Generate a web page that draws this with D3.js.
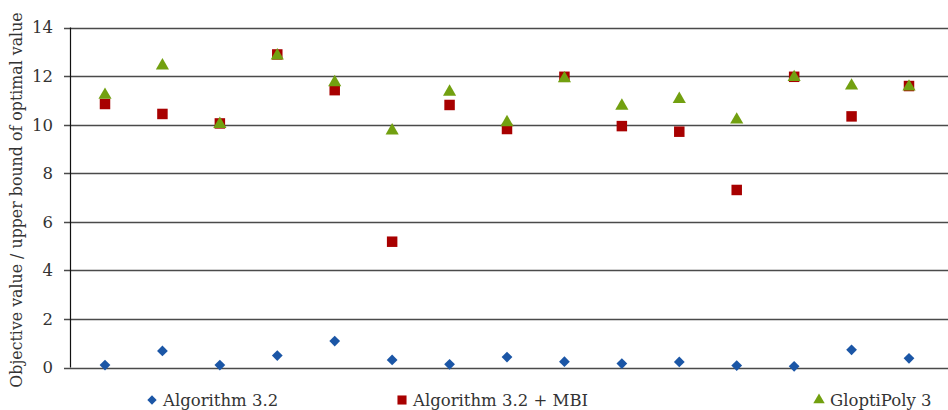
<!DOCTYPE html>
<html>
<head>
<meta charset="utf-8">
<script src="https://cdn.jsdelivr.net/npm/d3@7"></script>
<style>
  html, body { margin: 0; padding: 0; background: #fff; }
  svg { display: block; }
  svg text { font-family: "DejaVu Serif", serif; }
</style>
</head>
<body>
<svg id="chart" width="948" height="410"></svg>
<script>
const instances = d3.range(1, 16).map(String);
const alg32 = [0.10, 0.68, 0.10, 0.49, 1.09, 0.31, 0.13, 0.43, 0.24, 0.16, 0.23, 0.08, 0.05, 0.73, 0.38];
const alg32Mbi = [10.85, 10.44, 10.05, 12.89, 11.42, 5.18, 10.81, 9.82, 11.97, 9.94, 9.71, 7.31, 11.97, 10.34, 11.59];
const gloptiPoly = [11.22, 12.43, 10.02, 12.84, 11.74, 9.75, 11.35, 10.09, 11.90, 10.77, 11.05, 10.20, 11.95, 11.60, 11.56];
const yTicks = [0, 2, 4, 6, 8, 10, 12, 14];

const series = [
    { name: "Algorithm 3.2", values: alg32, color: "#1b56a6", symbol: d3.symbolSquare, size: 58, rot: 45, legendX: 152 },
    { name: "Algorithm 3.2 + MBI", values: alg32Mbi, color: "#a80000", symbol: d3.symbolSquare, size: 110, rot: 0, legendX: 402 },
    { name: "GloptiPoly 3", values: gloptiPoly, color: "#72a010", symbol: d3.symbolTriangle, size: 75, rot: 0, legendX: 819 }
];

const svg = d3.select("#chart");
const axisX = 70.5;

const x = d3.scalePoint()
    .domain(instances)
    .range([105, 909]);

const y = d3.scaleLinear()
    .domain([0, 14])
    .range([367.5, 27.5]);

// gridlines + tick labels
const grid = svg.append("g");
grid.selectAll("line")
    .data(yTicks)
    .enter()
    .append("line")
    .attr("x1", 64)
    .attr("x2", 948)
    .attr("y1", d => Math.round(y(d)) + 0.5)
    .attr("y2", d => Math.round(y(d)) + 0.5)
    .attr("stroke", "#4a4a4a")
    .attr("stroke-width", 1.3);

grid.selectAll("text")
    .data(yTicks)
    .enter()
    .append("text")
    .attr("x", 53)
    .attr("y", d => y(d))
    .attr("dy", "0.36em")
    .attr("text-anchor", "end")
    .attr("font-size", 16.5)
    .attr("fill", "#333")
    .text(d => d);

svg.append("line")
    .attr("x1", axisX).attr("x2", axisX)
    .attr("y1", y(14)).attr("y2", y(0))
    .attr("stroke", "#111")
    .attr("stroke-width", 1.2);

// y axis title
svg.append("text")
    .attr("transform", `translate(22,200) rotate(-90)`)
    .attr("text-anchor", "middle")
    .attr("font-size", 15.8)
    .attr("fill", "#333")
    .text("Objective value / upper bound of optimal value");

// markers
series.forEach(s => {
    svg.append("g")
        .selectAll("path")
        .data(s.values)
        .enter()
        .append("path")
        .attr("transform", (d, i) => `translate(${x(instances[i])},${y(d)}) rotate(${s.rot})`)
        .attr("d", d3.symbol().type(s.symbol).size(s.size))
        .attr("fill", s.color);
});

// legend
const legend = svg.append("g");
series.forEach(s => {
    legend.append("path")
        .attr("transform", `translate(${s.legendX},400) rotate(${s.rot})`)
        .attr("d", d3.symbol().type(s.symbol).size(s.size * 0.75))
        .attr("fill", s.color);
    legend.append("text")
        .attr("x", s.legendX + 11)
        .attr("y", 400)
        .attr("dy", "0.36em")
        .attr("font-size", 16.5)
        .attr("fill", "#333")
        .text(s.name);
});
</script>
</body>
</html>
